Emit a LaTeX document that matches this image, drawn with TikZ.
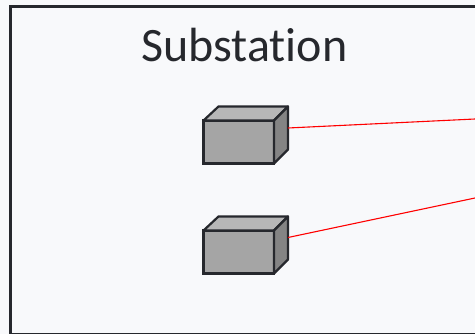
\documentclass[tikz,border=0pt]{standalone}
\usepackage{fontspec}
\setmainfont{Carlito}[Ligatures=NoCommon]
\usetikzlibrary{calc}
\definecolor{pagebg}{HTML}{F8F9FB}
\definecolor{ink}{HTML}{26282D}
\definecolor{frontc}{HTML}{A5A5A5}
\definecolor{topc}{HTML}{B7B7B7}
\definecolor{sidec}{HTML}{848484}
\tikzset{
  x=1pt,y=-1pt,
  front/.style={draw=ink,line width=2.2pt,fill=frontc,minimum width=70.5pt,minimum height=43pt,inner sep=0pt,outer sep=0pt,anchor=north west},
  face/.style={draw=ink,line width=2.2pt,line join=round},
  link/.style={draw=red,line width=1.1pt},
  frame/.style={draw=ink,line width=2.2pt,fill=pagebg}
}
\newcommand{\crate}[3]{%
  \node[front] (#3) at (#1,#2) {};
  \draw[face,fill=topc] (#3.north west) -- ++(15,-14) -- ++(69.5,0) -- ++(-14,14) -- cycle;
  \draw[face,fill=sidec] (#3.north east) -- ++(14,-14) -- ++(0,43) -- ++(-14,14) -- cycle;
  \coordinate (#3p) at ($(#3.east)+(14,0)$);
}
\begin{document}
\begin{tikzpicture}
\useasboundingbox (0,0) rectangle (475,334);
\fill[pagebg] (0,0) rectangle (475,334);
\draw[frame] (10.5,6.5) rectangle (480,334);
\node[text=ink,font=\fontsize{48}{54}\selectfont,anchor=base] (title) at (244.5,62) {Substation};
\crate{203.5}{120.5}{boxa}
\crate{203.5}{230.5}{boxb}
\coordinate (enda) at (475,119);
\coordinate (endb) at (475,198);
\draw[link] (boxap |- 0,128) -- (enda);
\draw[link] (boxbp |- 0,237.5) -- (endb);
\end{tikzpicture}
\end{document}
